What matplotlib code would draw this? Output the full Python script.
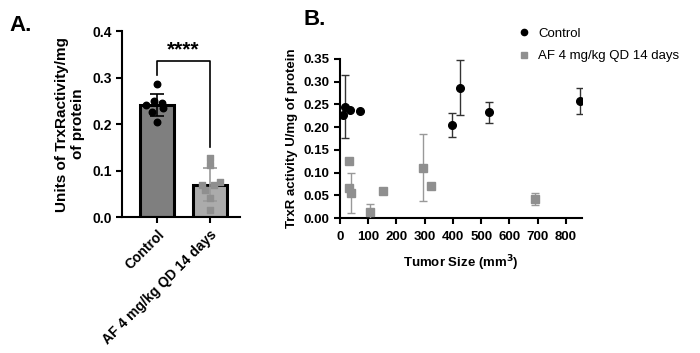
import matplotlib
matplotlib.use("Agg")
import matplotlib.pyplot as plt
from matplotlib.lines import Line2D
import numpy as np

plt.rcParams['font.family'] = ['Liberation Sans', 'DejaVu Sans']

# ---- Panel A data ----
groups = ["Control", "AF 4 mg/kg QD 14 days"]
bar_means = [0.241, 0.070]
bar_sd = [0.023, 0.035]
ctrl_pts = [0.286, 0.250, 0.245, 0.240, 0.235, 0.226, 0.204]
ctrl_jit = [0.0, -0.05, 0.1, -0.2, 0.12, -0.1, 0.0]
af_pts = [0.127, 0.112, 0.075, 0.070, 0.068, 0.058, 0.040, 0.015]
af_jit = [0.0, 0.0, 0.2, -0.15, 0.08, -0.1, 0.0, 0.0]
sig_label = "****"

# ---- Panel B data ----
ctrl_size = [12, 18, 35, 71, 395, 425, 527, 850]
ctrl_act = [0.227, 0.245, 0.238, 0.236, 0.205, 0.287, 0.233, 0.257]
ctrl_err = [0.0, 0.069, 0.0, 0.0, 0.027, 0.061, 0.023, 0.029]
af_size = [33, 32, 39, 106, 153, 295, 322, 692]
af_act = [0.126, 0.066, 0.056, 0.013, 0.059, 0.111, 0.070, 0.042]
af_err = [0.0, 0.0, 0.044, 0.017, 0.0, 0.073, 0.004, 0.013]

fig = plt.figure(figsize=(7.0, 3.53), dpi=100)

# ---------------- Panel A ----------------
axA = fig.add_axes([0.1743, 0.385, 0.1686, 0.527])
xs = np.arange(len(groups))
axA.bar(xs[0], bar_means[0], width=0.64, color='#7f7f7f', edgecolor='black', linewidth=2.2, zorder=2)
axA.bar(xs[1], bar_means[1], width=0.64, color='#ababab', edgecolor='black', linewidth=2.2, zorder=2)
axA.errorbar(xs[0], bar_means[0], yerr=bar_sd[0], color='black', capsize=5, lw=1.2, capthick=1.2, zorder=3)
axA.errorbar(xs[1], bar_means[1], yerr=bar_sd[1], color='#999999', capsize=5, lw=1.2, capthick=1.2, zorder=3)
axA.scatter(xs[0] + np.array(ctrl_jit), ctrl_pts, s=22, color='black', zorder=4)
axA.scatter(xs[1] + np.array(af_jit), af_pts, s=22, marker='s', color='#8f8f8f', zorder=4)
# significance bracket
axA.plot([0, 0, 1, 1], [0.305, 0.335, 0.335, 0.15], color='black', lw=1.2, clip_on=False)
axA.text(0.5, 0.340, sig_label, ha='center', va='bottom', fontsize=15, fontweight='bold')
axA.set_xlim(-0.66, 1.57)
axA.set_ylim(0, 0.4)
axA.set_yticks([0.0, 0.1, 0.2, 0.3, 0.4])
axA.set_yticklabels(["0.0", "0.1", "0.2", "0.3", "0.4"])
axA.set_xticks(xs)
axA.set_xticklabels(groups, rotation=45, ha='right', rotation_mode='anchor')
for s in ['top', 'right']:
    axA.spines[s].set_visible(False)
for s in ['left', 'bottom']:
    axA.spines[s].set_linewidth(1.5)
axA.tick_params(axis='both', width=1.5, length=4, labelsize=10)
for lab in axA.get_xticklabels() + axA.get_yticklabels():
    lab.set_fontweight('bold')
axA.set_ylabel("Units of TrxRactivity/mg\nof protein", fontsize=11, fontweight='bold', labelpad=5)
fig.text(0.013, 0.912, "A.", fontsize=16, fontweight='bold')

# ---------------- Panel B ----------------
axB = fig.add_axes([0.4857, 0.3824, 0.3457, 0.4506])
axB.errorbar(af_size, af_act, yerr=af_err, fmt='s', color='#8f8f8f', ecolor='#999999',
             markersize=5.5, capsize=3, lw=1.0, capthick=1.0, label="AF 4 mg/kg QD 14 days", zorder=3)
axB.errorbar(ctrl_size, ctrl_act, yerr=ctrl_err, fmt='o', color='black', ecolor='#333333',
             markersize=5.5, capsize=3, lw=1.0, capthick=1.0, label="Control", zorder=4)
axB.set_xlim(0, 857)
axB.set_ylim(0, 0.35)
axB.set_xticks(np.arange(0, 801, 100))
axB.set_yticks(np.arange(0, 0.351, 0.05))
axB.set_yticklabels([f"{v:.2f}" for v in np.arange(0, 0.351, 0.05)])
for s in ['top', 'right']:
    axB.spines[s].set_visible(False)
for s in ['left', 'bottom']:
    axB.spines[s].set_linewidth(1.5)
axB.tick_params(axis='both', width=1.5, length=4, labelsize=9.5)
axB.tick_params(axis='x', pad=5)
for lab in axB.get_xticklabels() + axB.get_yticklabels():
    lab.set_fontweight('bold')
axB.set_xlabel("Tumor Size (mm$^{\\mathbf{3}}$)", fontsize=9.5, fontweight='bold', labelpad=8)
axB.set_ylabel("TrxR activity U/mg of protein", fontsize=9.5, fontweight='bold')
leg_handles = [Line2D([], [], marker='o', ls='', color='black', markersize=4.5),
               Line2D([], [], marker='s', ls='', color='#8f8f8f', markersize=4.5)]
fig.legend(leg_handles, ["Control", "AF 4 mg/kg QD 14 days"], loc='upper left',
           bbox_to_anchor=(0.722, 0.955), frameon=False, fontsize=9.5,
           handletextpad=0.6, labelspacing=0.75, handlelength=1.0)
fig.text(0.434, 0.93, "B.", fontsize=16, fontweight='bold')

fig.savefig("out.png", dpi=100)
